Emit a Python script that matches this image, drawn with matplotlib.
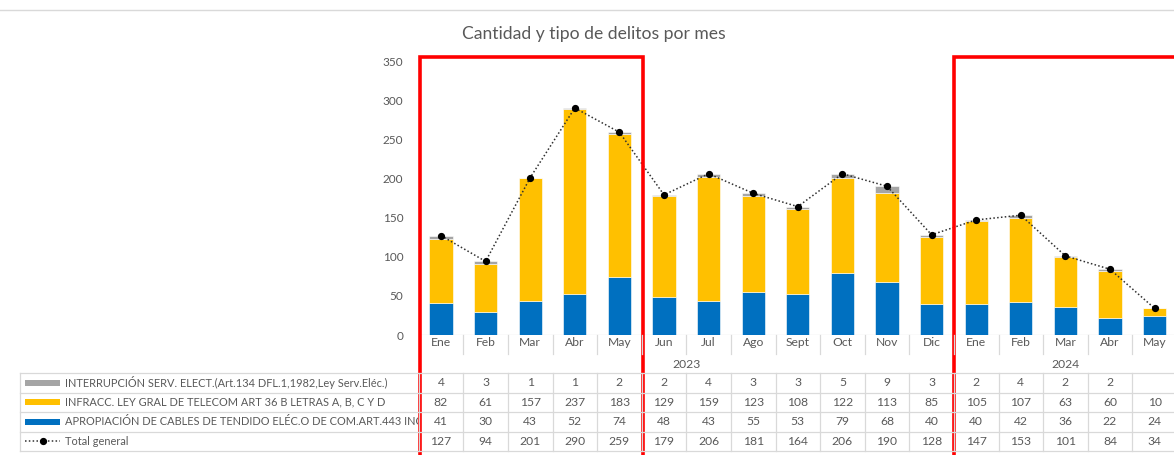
import numpy as np
import matplotlib
matplotlib.use("Agg")
import matplotlib.pyplot as plt
from matplotlib.lines import Line2D
from matplotlib.patches import Rectangle
from matplotlib.transforms import Bbox, TransformedBbox

plt.rcParams['font.family'] = ['Lato', 'DejaVu Sans']

# data
months = ["Ene", "Feb", "Mar", "Abr", "May", "Jun", "Jul", "Ago", "Sept", "Oct", "Nov", "Dic",
          "Ene", "Feb", "Mar", "Abr", "May"]
years = ["2023", "2024"]
year_sizes = [12, 5]

interrupcion = [4, 3, 1, 1, 2, 2, 4, 3, 3, 5, 9, 3, 2, 4, 2, 2, None]
infracc = [82, 61, 157, 237, 183, 129, 159, 123, 108, 122, 113, 85, 105, 107, 63, 60, 10]
apropiacion = [41, 30, 43, 52, 74, 48, 43, 55, 53, 79, 68, 40, 40, 42, 36, 22, 24]
total = [127, 94, 201, 290, 259, 179, 206, 181, 164, 206, 190, 128, 147, 153, 101, 84, 34]

series_names = ["INTERRUPCIÓN SERV. ELECT.(Art.134 DFL.1,1982,Ley Serv.Eléc.)",
                "INFRACC. LEY GRAL DE TELECOM ART 36 B LETRAS A, B, C Y D",
                "APROPIACIÓN DE CABLES DE TENDIDO ELÉC.O DE COM.ART.443 INC 2",
                "Total general"]

BLUE = "#0070C0"
YELLOW = "#FFC000"
GRAY = "#A5A5A5"
TXT = "#595959"
GRID = "#D9D9D9"

W, H = 1174, 455
fig = plt.figure(figsize=(W / 100, H / 100), dpi=100)


def fx(px):
    return px / W


def fy(py):
    return 1 - py / H


# plot area in pixels
cat_w = 44.6
ax_left = 418.7
ax_top, ax_bot = 61, 335
ax = fig.add_axes([fx(ax_left), fy(ax_bot), fx(W - ax_left), (ax_bot - ax_top) / H])
n = len(months)
x = np.arange(n)
ax.set_xlim(-0.5, -0.5 + (W - ax_left) / cat_w)
ax.set_ylim(0, 350)

gray_vals = np.array([v if v is not None else 0 for v in interrupcion], dtype=float)
blue = np.array(apropiacion, dtype=float)
yel = np.array(infracc, dtype=float)

bw = 0.52
ax.bar(x, blue, bw, color=BLUE, edgecolor="white", linewidth=0.4, zorder=2)
ax.bar(x, yel, bw, bottom=blue, color=YELLOW, edgecolor="white", linewidth=0.4, zorder=2)
ax.bar(x, gray_vals, bw, bottom=blue + yel, color=GRAY, edgecolor="white", linewidth=0.4, zorder=2)
ax.plot(x, total, linestyle=(0, (1, 1.5)), color="#303030", linewidth=1.1,
        marker="o", markersize=4.2, markerfacecolor="black", markeredgecolor="black", zorder=3)

for s in ax.spines.values():
    s.set_visible(False)
ax.set_xticks([])
ax.set_yticks(np.arange(0, 351, 50))
ax.tick_params(axis="y", length=0, pad=11, labelsize=8.5, labelcolor=TXT)
ax.axhline(0, color=GRID, linewidth=0.9, zorder=1)

# category axis: months, separators, years
for i, m in enumerate(months):
    cx = ax_left + (i + 0.5) * cat_w
    fig.text(fx(cx), fy(342), m, ha="center", va="center", fontsize=8.7, color=TXT)
for i in range(n):
    bx = ax_left + (i + 1) * cat_w
    fig.add_artist(Line2D([fx(bx), fx(bx)], [fy(335), fy(354)], color=GRID, linewidth=0.9))
start = 0
for yr, sz in zip(years, year_sizes):
    cx = ax_left + (start + sz / 2) * cat_w
    fig.text(fx(cx), fy(365), yr, ha="center", va="center", fontsize=8.7, color=TXT)
    start += sz

# data table
tab_left = 20
row_top = [373, 392.5, 412, 431.5]
row_h = 19.5
tab_bot = row_top[-1] + row_h
rows = [interrupcion, infracc, apropiacion, total]
for yy in row_top + [tab_bot]:
    fig.add_artist(Line2D([fx(tab_left), fx(W)], [fy(yy), fy(yy)], color=GRID, linewidth=0.9))
for bx in [tab_left, ax_left] + [ax_left + (i + 1) * cat_w for i in range(n)]:
    fig.add_artist(Line2D([fx(bx), fx(bx)], [fy(row_top[0]), fy(tab_bot)], color=GRID, linewidth=0.9))

# names are cut at the first value column, like in the original
name_clip = TransformedBbox(Bbox.from_extents(0, fy(tab_bot), fx(ax_left - 1), fy(row_top[0])),
                            fig.transFigure)
for r, (vals, name) in enumerate(zip(rows, series_names)):
    cy = row_top[r] + row_h / 2
    for i, v in enumerate(vals):
        if v is None:
            continue
        cx = ax_left + (i + 0.5) * cat_w
        fig.text(fx(cx), fy(cy), str(v), ha="center", va="center", fontsize=8.7, color=TXT)
    t = fig.text(fx(65), fy(cy), name, ha="left", va="center", fontsize=7.95, color=TXT)
    t.set_clip_box(name_clip)
    t.set_clip_on(True)

# legend keys in table
for r, col in enumerate([GRAY, YELLOW, BLUE]):
    cy = row_top[r] + row_h / 2
    fig.add_artist(Rectangle((fx(25), fy(cy + 3)), fx(35), 6 / H, color=col, linewidth=0))
cy = row_top[3] + row_h / 2
fig.add_artist(Line2D([fx(25), fx(60)], [fy(cy), fy(cy)], linestyle=(0, (1, 1.5)),
                      color="#303030", linewidth=1.1))
fig.add_artist(Line2D([fx(42.5)], [fy(cy)], marker="o", markersize=4.2, color="black"))

# title and top border
fig.text(fx(594), fy(34), "Cantidad y tipo de delitos por mes", ha="center", va="center",
         fontsize=12.6, color=TXT)
fig.add_artist(Line2D([0, 1], [fy(10), fy(10)], color=GRID, linewidth=1))

# red highlight boxes
fig.add_artist(Rectangle((fx(420.5), fy(470)), fx(643 - 420.5), (470 - 57) / H,
                         fill=False, edgecolor="#FF0000", linewidth=2.6))
fig.add_artist(Rectangle((fx(953.5), fy(470)), fx(1200 - 953.5), (470 - 57) / H,
                         fill=False, edgecolor="#FF0000", linewidth=2.6))

fig.savefig("out.png", dpi=100)
